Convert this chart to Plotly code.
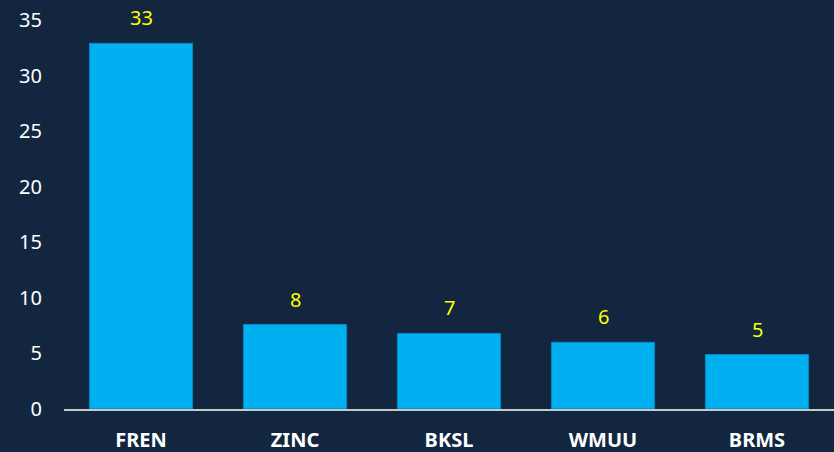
import plotly.graph_objects as go

categories = ["FREN", "ZINC", "BKSL", "WMUU", "BRMS"]
values = [32.9, 7.6, 6.8, 6.0, 4.9]
value_labels = [str(round(v)) for v in values]
y_ticks = [0, 5, 10, 15, 20, 25, 30, 35]

BG = "#12263f"
BAR = "#00b0f0"

fig = go.Figure()
fig.add_trace(go.Bar(
    x=categories, y=values,
    marker=dict(color=BAR, line=dict(color="#0a86c0", width=1)),
    hoverinfo="skip",
))
for c, v, t in zip(categories, values, value_labels):
    fig.add_annotation(x=c, y=v, text=t, showarrow=False, yanchor="bottom",
                       yshift=10, font=dict(color="#ffff00", size=20, family="Noto Sans"))

fig.update_layout(
    width=834, height=452,
    paper_bgcolor=BG, plot_bgcolor=BG,
    margin=dict(l=64, r=0, t=20, b=43),
    bargap=0.33,
    showlegend=False,
    font=dict(family="Noto Sans", color="white", size=20),
)
fig.update_xaxes(
    showline=True, linecolor="#c8c8c8", linewidth=2, showgrid=False,
    tickfont=dict(size=20, color="white", family="Noto Sans", weight="bold"),
    ticklabelstandoff=12, ticks="",
)
fig.update_yaxes(
    range=[0, 35], tickvals=y_ticks, showgrid=False, zeroline=False,
    showline=False, ticks="", ticklabelstandoff=21,
    tickfont=dict(size=20, color="white", family="Noto Sans"),
)
fig.write_html("out.html", config={"displayModeBar": False},
               post_script="document.body.style.margin='0';")
